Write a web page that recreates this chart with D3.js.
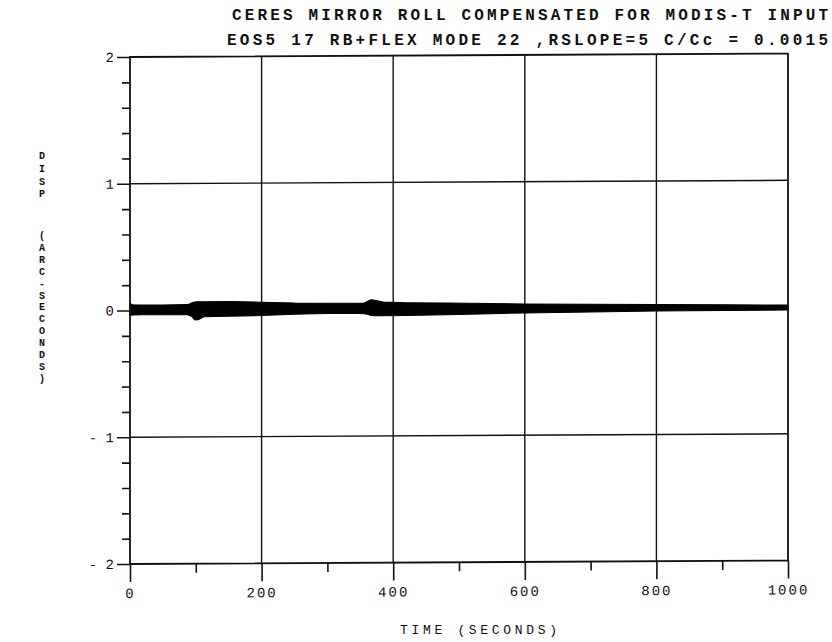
<!DOCTYPE html>
<html>
<head>
<meta charset="utf-8">
<script src="https://cdn.jsdelivr.net/npm/d3@7"></script>
<style>
  body { margin: 0; background: #fff; }
  text { font-family: "Liberation Mono", "DejaVu Sans Mono", monospace; fill: #111; }
</style>
</head>
<body>
<svg id="chart" width="832" height="642"></svg>
<script>
// Envelope of the roll displacement trace (arc-seconds)
const envTime  = [0, 4, 20, 50, 88, 94, 98, 102, 106, 112, 150, 200, 250, 300, 340, 356, 362, 366, 372, 385, 420, 480, 550, 600, 700, 800, 900, 1000];
const envUpper = [0.055, 0.045, 0.043, 0.043, 0.044, 0.058, 0.064, 0.066, 0.066, 0.066, 0.066, 0.06, 0.052, 0.05, 0.048, 0.05, 0.066, 0.075, 0.07, 0.056, 0.05, 0.046, 0.04, 0.035, 0.03, 0.026, 0.021, 0.016];
const envLower = [-0.04, -0.035, -0.035, -0.035, -0.036, -0.05, -0.075, -0.078, -0.07, -0.052, -0.05, -0.045, -0.036, -0.032, -0.03, -0.035, -0.042, -0.05, -0.052, -0.052, -0.05, -0.047, -0.04, -0.036, -0.03, -0.026, -0.024, -0.023];

const xTicks = [0, 200, 400, 600, 800, 1000];
const xMinor = [100, 300, 500, 700, 900];
const yTicks = [-2, -1, 0, 1, 2];
const yMinor = [-1.8, -1.6, -1.4, -1.2, -0.8, -0.6, -0.4, -0.2, 0.2, 0.4, 0.6, 0.8, 1.2, 1.4, 1.6, 1.8];

const titleLines = ["CERES MIRROR ROLL COMPENSATED FOR MODIS-T INPUT",
                    "EOS5 17 RB+FLEX MODE 22 ,RSLOPE=5 C/Cc = 0.0015"];
const yLabelTop = "DISP";
const yLabelBottom = "(ARC-SECONDS)";
const xLabel = "TIME (SECONDS)";

const svg = d3.select("#chart");
const margin = { left: 130, top: 57 };
const width = 658, height = 507;

const x = d3.scaleLinear().domain([0, 1000]).range([0, width]);
const y = d3.scaleLinear().domain([-2, 2]).range([height, 0]);

// slight sheet tilt of the plotter output
const g = svg.append("g")
    .attr("transform", `translate(${margin.left},${margin.top}) skewY(-0.3)`);

// grid lines
g.append("g").selectAll("line")
    .data([1, -1])
    .enter().append("line")
    .attr("x1", 0).attr("x2", width)
    .attr("y1", d => y(d)).attr("y2", d => y(d))
    .attr("stroke", "#111").attr("stroke-width", 1.4);

g.append("g").selectAll("line")
    .data([200, 400, 600, 800])
    .enter().append("line")
    .attr("x1", d => x(d)).attr("x2", d => x(d))
    .attr("y1", 0).attr("y2", height)
    .attr("stroke", "#111").attr("stroke-width", 1.4);

// displacement band
const area = d3.area()
    .x((d, i) => x(envTime[i]))
    .y0((d, i) => y(envLower[i]))
    .y1((d, i) => y(envUpper[i]))
    .curve(d3.curveLinear);

g.append("path")
    .datum(envTime)
    .attr("d", area)
    .attr("fill", "#000")
    .attr("stroke", "#000")
    .attr("stroke-width", 1);

// frame
g.append("rect")
    .attr("x", 0).attr("y", 0)
    .attr("width", width).attr("height", height)
    .attr("fill", "none").attr("stroke", "#111").attr("stroke-width", 1.8);

// y axis
const yAxis = d3.axisLeft(y).tickValues(yTicks).tickSize(13).tickPadding(3)
    .tickFormat(d => d < 0 ? "- " + Math.abs(d) : d);
const ya = g.append("g").call(yAxis);
ya.select(".domain").remove();
ya.selectAll("line").attr("stroke", "#111").attr("stroke-width", 1.6);
ya.selectAll("text").attr("font-size", 14).attr("fill", "#111");

const yMin = d3.axisLeft(y).tickValues(yMinor).tickSize(8).tickFormat("");
const ym = g.append("g").call(yMin);
ym.select(".domain").remove();
ym.selectAll("line").attr("stroke", "#111").attr("stroke-width", 1.6);

// x axis
const xAxis = d3.axisBottom(x).tickValues(xTicks).tickSize(18).tickPadding(6)
    .tickFormat(d3.format("d"));
const xa = g.append("g").attr("transform", `translate(0,${height})`).call(xAxis);
xa.select(".domain").remove();
xa.selectAll("line").attr("stroke", "#111").attr("stroke-width", 1.6);
xa.selectAll("text").attr("font-size", 14).attr("fill", "#111")
    .attr("letter-spacing", 2);

const xMin = d3.axisBottom(x).tickValues(xMinor).tickSize(9).tickFormat("");
const xm = g.append("g").attr("transform", `translate(0,${height})`).call(xMin);
xm.select(".domain").remove();
xm.selectAll("line").attr("stroke", "#111").attr("stroke-width", 1.6);

// titles
svg.append("text")
    .attr("x", 232).attr("y", 20)
    .attr("font-size", 16).attr("font-weight", "bold")
    .attr("textLength", 596).attr("lengthAdjust", "spacing")
    .text(titleLines[0]);
svg.append("text")
    .attr("x", 227).attr("y", 45)
    .attr("font-size", 16).attr("font-weight", "bold")
    .attr("textLength", 601).attr("lengthAdjust", "spacing")
    .text(titleLines[1]);

// x axis title
svg.append("text")
    .attr("x", 400).attr("y", 634)
    .attr("font-size", 13)
    .attr("textLength", 157).attr("lengthAdjust", "spacing")
    .text(xLabel);

// y axis title, one character per line
const yTitle = svg.append("text")
    .attr("text-anchor", "middle")
    .attr("font-size", 10)
    .attr("font-weight", "bold");
yTitle.selectAll("tspan.top")
    .data(yLabelTop.split(""))
    .enter().append("tspan")
    .attr("x", 42)
    .attr("y", (d, i) => 159 + i * 12.8)
    .text(d => d);
yTitle.selectAll("tspan.bottom")
    .data(yLabelBottom.split(""))
    .enter().append("tspan")
    .attr("x", 42)
    .attr("y", (d, i) => 239 + i * 11.9)
    .text(d => d);
</script>
</body>
</html>
